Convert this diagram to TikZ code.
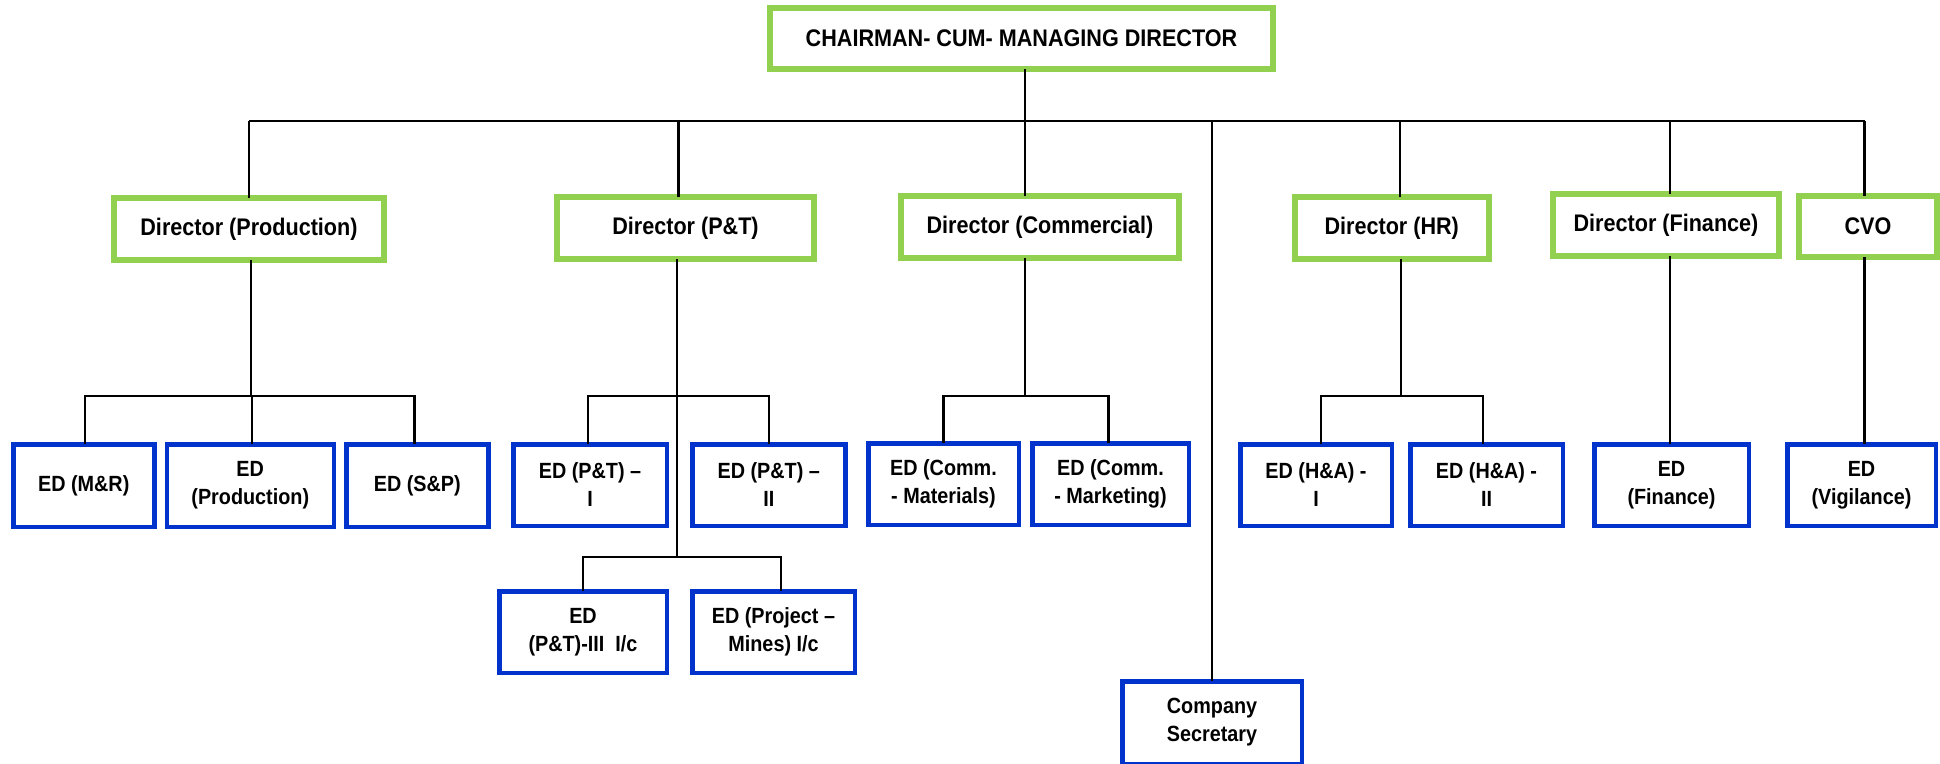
\documentclass[tikz,border=0pt]{standalone}
\usepackage{fontspec}
\setmainfont{Liberation Sans}[FakeStretch=0.9]
\definecolor{dgreen}{HTML}{92D050}
\definecolor{eblue}{HTML}{0033CC}
\begin{document}
\begin{tikzpicture}[x=1pt,y=-1pt,
  gbox/.style={draw=dgreen,line width=6pt,fill=white,inner sep=0pt,outer sep=0pt,align=center,
    font=\bfseries\fontsize{24}{28}\selectfont},
  ebox/.style={draw=eblue,line width=4.5pt,fill=white,inner sep=0pt,outer sep=0pt,align=center,
    font=\bfseries\fontsize{22}{28}\selectfont},
  conn/.style={draw=black,line width=2.2pt},
]
\useasboundingbox[fill=white] (0,0) rectangle (1940,763);
% top
\node[gbox,minimum width=503,minimum height=61] (cmd) at (1021.5,38.5) {CHAIRMAN- CUM- MANAGING DIRECTOR};
% directors
\node[gbox,minimum width=270,minimum height=62] (dprod) at (249,229) {Director (Production)};
\node[gbox,minimum width=257,minimum height=62] (dpt) at (685.5,228) {Director (P\&T)};
\node[gbox,minimum width=278,minimum height=62] (dcom) at (1040,227) {Director (Commercial)};
\node[gbox,minimum width=193.5,minimum height=62] (dhr) at (1391.75,228) {Director (HR)};
\node[gbox,minimum width=226,minimum height=62] (dfin) at (1666,225) {Director (Finance)};
\node[gbox,minimum width=138,minimum height=61] (dcvo) at (1868,226.5) {CVO};
% EDs
\node[ebox,minimum width=141,minimum height=82.5] (edmr) at (83.75,485.5) {ED (M\&R)};
\node[ebox,minimum width=167,minimum height=82.5] (edprod) at (250.25,485.5) {ED\\(Production)};
\node[ebox,minimum width=142,minimum height=82.5] (edsp) at (417.3,485.5) {ED (S\&P)};
\node[ebox,minimum width=153.5,minimum height=81.5] (edpt1) at (590,485) {ED (P\&T) –\\I};
\node[ebox,minimum width=153,minimum height=81.5] (edpt2) at (768.75,485) {ED (P\&T) –\\II};
\node[ebox,minimum width=167.5,minimum height=81.5] (edpt3) at (583,632) {ED\\(P\&T)-III~~I/c};
\node[ebox,minimum width=162.5,minimum height=81.5] (edpm) at (773.5,632) {ED (Project –\\Mines) I/c};
\node[ebox,minimum width=150.5,minimum height=81.5] (edcm) at (943.5,484) {ED (Comm.\\- Materials)};
\node[ebox,minimum width=156.5,minimum height=81.5] (edck) at (1110.5,484) {ED (Comm.\\- Marketing)};
\node[ebox,minimum width=179.5,minimum height=82.5] (cs) at (1212,722.5) {Company\\Secretary};
\node[ebox,minimum width=151.5,minimum height=81.5] (edha1) at (1316,485) {ED (H\&A) -\\I};
\node[ebox,minimum width=152.5,minimum height=81.5] (edha2) at (1486.5,485) {ED (H\&A) -\\II};
\node[ebox,minimum width=154.5,minimum height=81.5] (edfin) at (1671.5,485) {ED\\(Finance)};
\node[ebox,minimum width=148.5,minimum height=81.5] (edvig) at (1861.5,485) {ED\\(Vigilance)};
% bus levels
\coordinate (topbus) at (0,121);
\coordinate (pbus) at (0,396);
\coordinate (pbus2) at (0,557);
% top bus
\draw[conn] (dprod.north |- topbus) -- ([xshift=-3.5pt]dcvo.north |- topbus);
\draw[conn] ([xshift=3.5pt]cmd.south) -- ([xshift=3.5pt]cmd.south |- topbus);
\draw[conn] (dprod.north) -- (dprod.north |- topbus);
\draw[conn] ([xshift=-7pt]dpt.north) -- ([xshift=-7pt]dpt.north |- topbus);
\draw[conn] ([xshift=-15pt]dcom.north) -- ([xshift=-15pt]dcom.north |- topbus);
\draw[conn] (cs.north) -- (cs.north |- topbus);
\draw[conn] ([xshift=8.5pt]dhr.north) -- ([xshift=8.5pt]dhr.north |- topbus);
\draw[conn] ([xshift=4pt]dfin.north) -- ([xshift=4pt]dfin.north |- topbus);
\draw[conn] ([xshift=-3.5pt]dcvo.north) -- ([xshift=-3.5pt]dcvo.north |- topbus);
% production
\draw[conn] ([xshift=2pt]dprod.south) -- ([xshift=2pt]dprod.south |- pbus);
\draw[conn] ([xshift=1.25pt]edmr.north) -- ([xshift=1.25pt]edmr.north |- pbus) -| ([xshift=-2.8pt]edsp.north);
\draw[conn] ([xshift=1.75pt]edprod.north) -- ([xshift=1.75pt]edprod.north |- pbus);
% P&T
\draw[conn] ([xshift=-8.5pt]dpt.south) -- ([xshift=-8.5pt]dpt.south |- pbus2);
\draw[conn] ([xshift=-2pt]edpt1.north) -- ([xshift=-2pt]edpt1.north |- pbus) -| (edpt2.north);
\draw[conn] (edpt3.north) -- (edpt3.north |- pbus2) -| ([xshift=7.5pt]edpm.north);
% commercial
\draw[conn] ([xshift=-15pt]dcom.south) -- ([xshift=-15pt]dcom.south |- pbus);
\draw[conn] (edcm.north) -- (edcm.north |- pbus) -| ([xshift=-2pt]edck.north);
% HR
\draw[conn] ([xshift=9pt]dhr.south) -- ([xshift=9pt]dhr.south |- pbus);
\draw[conn] ([xshift=5pt]edha1.north) -- ([xshift=5pt]edha1.north |- pbus) -| ([xshift=-3.5pt]edha2.north);
% finance, CVO
\draw[conn] ([xshift=-1.5pt]edfin.north) -- ([xshift=-1.5pt]edfin.north |- dfin.south);
\draw[conn] ([xshift=3pt]edvig.north) -- ([xshift=3pt]edvig.north |- dcvo.south);
\end{tikzpicture}
\end{document}
